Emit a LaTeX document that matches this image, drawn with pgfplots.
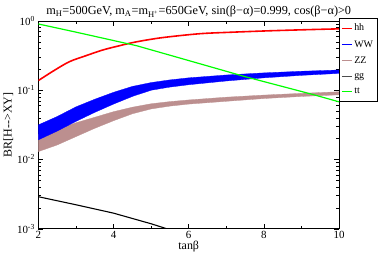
\documentclass[border=0pt]{standalone}
\usepackage{pgfplots}
\pgfplotsset{compat=1.18}
\usepackage{fontspec}
\setmainfont{Liberation Serif}
\definecolor{rosy}{RGB}{188,143,143}
\definecolor{ttgreen}{RGB}{0,255,0}
\begin{document}
\begin{tikzpicture}
\begin{axis}[
  at={(0,0)}, anchor=south west,
  scale only axis, width=301bp, height=208bp,
  ymode=log, xmin=2, xmax=10, ymin=0.001, ymax=1,
  xtick={2,4,6,8,10}, minor xtick={3,5,7,9},
  ytick={0.001,0.01,0.1,1},
  yticklabels={10\textsuperscript{-3},10\textsuperscript{-2},10\textsuperscript{-1},10\textsuperscript{0}},
  /pgf/number format/assume math mode=true,
  tick align=inside, tick style={black, line width=0.5pt},
  major tick length=5bp, minor tick length=3bp,
  ticklabel style={font=\fontsize{11}{13}\selectfont},
  xticklabel style={yshift=1bp},
  xlabel={tanβ}, ylabel={BR[H-{}-{}>XY]},
  xlabel style={font=\fontsize{12}{14}\selectfont, yshift=4bp},
  ylabel style={font=\fontsize{12}{14}\selectfont, yshift=-3bp},
  title={m\textsubscript{H}=500GeV, m\textsubscript{A}=m\textsubscript{H\textsuperscript{+}}=650GeV, sin(β−α)=0.999, cos(β−α)>0},
  title style={font=\fontsize{12.3}{14}\selectfont, yshift=-6.5bp, xshift=10bp},
  axis line style={line width=0.6pt},
  legend style={at={(1,1.015)}, anchor=north west, draw=black, line width=0.5pt,
    font=\fontsize{10}{12}\selectfont, row sep=4.2bp, inner xsep=2bp, inner ysep=4bp},
  legend cell align=left,
  legend image code/.code={\draw[#1] (0bp,0bp) -- (10bp,0bp);},
  clip=true,
]
% legend
\addlegendimage{red, line width=1pt}
\addlegendentry{hh}
\addlegendimage{blue, line width=1pt}
\addlegendentry{WW}
\addlegendimage{rosy, line width=1pt}
\addlegendentry{ZZ}
\addlegendimage{black!70, line width=1pt}
\addlegendentry{gg}
\addlegendimage{ttgreen, line width=1pt}
\addlegendentry{tt}
% ZZ band
\addplot[fill=rosy, draw=rosy, line width=0.3pt, forget plot] coordinates {
 (2,0.0229) (2.5,0.0275) (3,0.0339) (3.5,0.0407) (4,0.049) (4.5,0.0569) (5,0.0638) (5.5,0.0685) (6,0.0724) (7,0.0794) (8,0.0851) (9,0.0902) (10,0.095)
 (10,0.0859) (9,0.0813) (8,0.0759) (7,0.0692) (6,0.0631) (5.5,0.059) (5,0.0537) (4.5,0.0457) (4,0.0363) (3.5,0.0282) (3,0.0214) (2.5,0.0162) (2,0.0130)} -- cycle;
% WW band
\addplot[fill=blue, draw=blue, line width=0.3pt, forget plot] coordinates {
 (2,0.0316) (2.5,0.0417) (3,0.0575) (3.5,0.0741) (4,0.0933) (4.5,0.1135) (5,0.129) (5.5,0.141) (6,0.151) (7,0.166) (8,0.178) (9,0.188) (10,0.196)
 (10,0.175) (9,0.164) (8,0.151) (7,0.136) (6,0.120) (5.5,0.111) (5,0.100) (4.5,0.0813) (4,0.0631) (3.5,0.0479) (3,0.0355) (2.5,0.0257) (2,0.0192)} -- cycle;
% hh
\addplot[red, line width=1.6pt, smooth, forget plot] coordinates {
 (2,0.138) (2.4,0.19) (2.83,0.259) (3.3,0.32) (3.72,0.382) (4.2,0.445) (4.61,0.50) (5.3,0.575) (6.3,0.655) (7.2,0.69) (8.1,0.72) (9,0.745) (10,0.77)};
% tt
\addplot[ttgreen, line width=1.2pt, forget plot] coordinates {
 (2,0.905) (3,0.69) (4.61,0.44) (5.78,0.29) (7.5,0.157) (9.28,0.0875) (10,0.068)};
% gg
\addplot[black, line width=1.1pt, forget plot] coordinates {
 (2,0.0029) (3,0.00222) (4,0.00168) (5,0.00118) (5.6,0.00093)};
\end{axis}
\path (-38bp,-29bp) rectangle (344bp,229bp);
\end{tikzpicture}
\end{document}
